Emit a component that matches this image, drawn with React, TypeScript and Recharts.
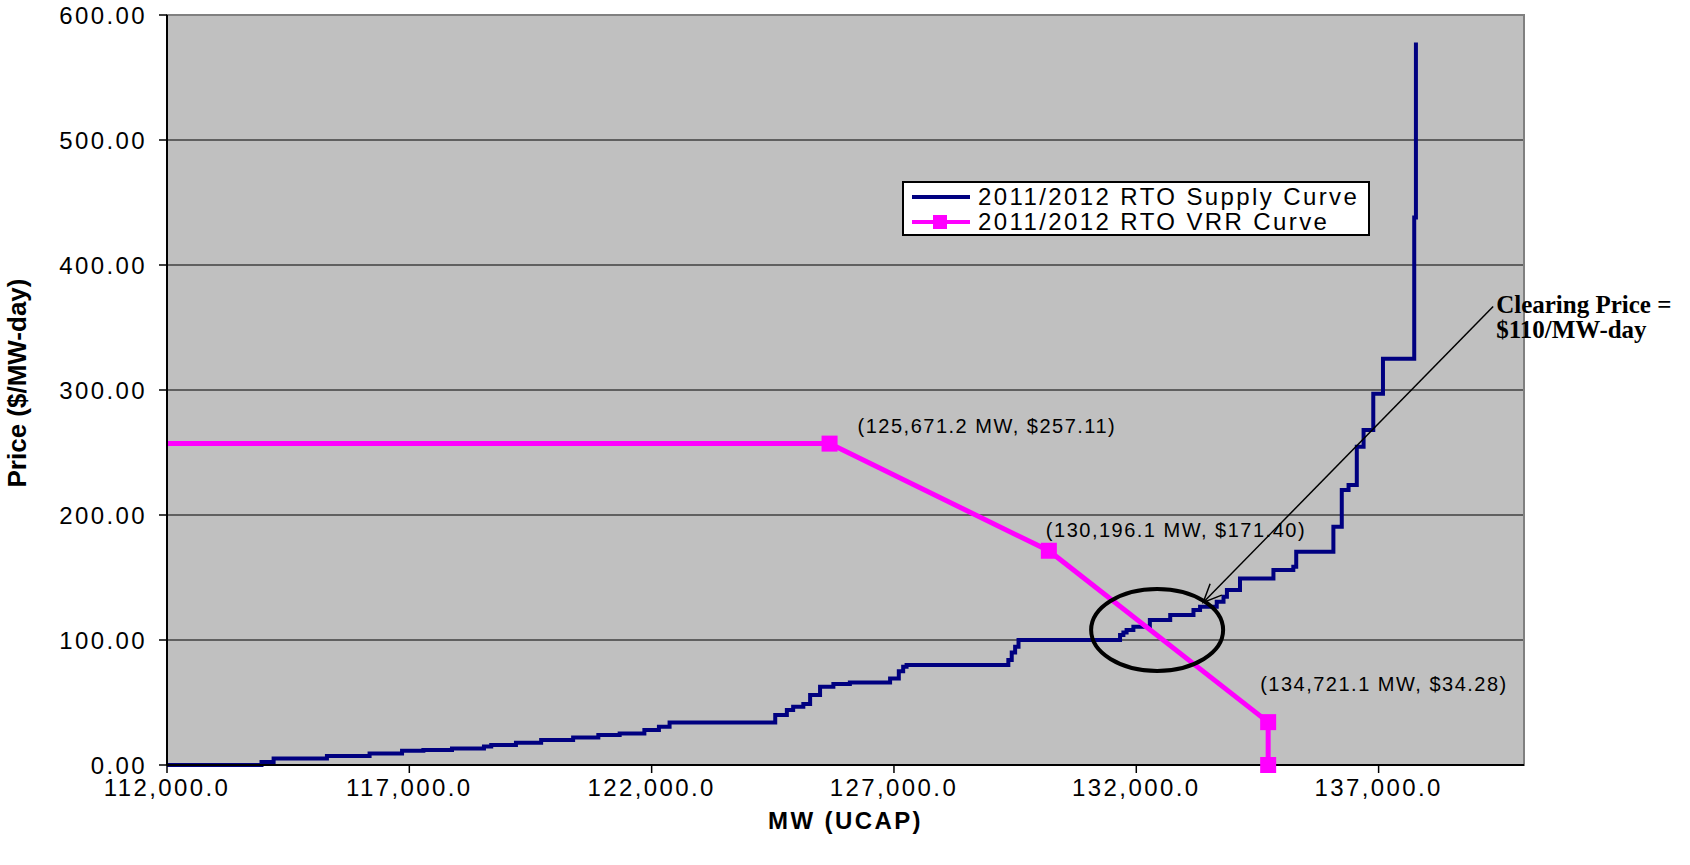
import { LineChart, Line, XAxis, YAxis, CartesianGrid, Legend, ReferenceArea, ReferenceDot } from 'recharts';

// supply curve: each point starts a new price step (stepAfter)
const supplyMW = [
  112000, 113790, 113950, 114200, 115300, 116180, 116850, 117290, 117880, 118540, 118690, 119200, 119720, 120380, 120900, 121340, 121850, 122150, 122370,
  124550, 124790, 124920, 125130, 125270, 125475, 125750, 126090, 126920, 127100, 127190, 127260,
  129360, 129430, 129500, 129570,
  131665, 131734, 131800, 131940, 132280, 132700, 133180, 133316, 133660, 133800, 133870, 134140, 134830, 135240, 135300, 136067, 136240, 136380, 136550, 136690, 136890, 137090, 137735, 137770,
];
const supplyPrice = [
  0, 0, 2.5, 5.3, 7.2, 9.3, 11.5, 12, 13.3, 14.8, 16, 17.9, 20, 22.1, 24, 25.3, 28, 30.7, 34.1,
  40, 44, 46.7, 48.8, 56, 62.7, 64.8, 66.1, 69.3, 75, 78.7, 80,
  84, 90, 94.7, 100,
  104, 106, 108, 110.7, 116, 120, 124, 126.7, 130.7, 134.7, 140, 149.3, 156, 158.7, 170.7, 190.7, 220, 224, 254.7, 268, 297, 325, 438, 578,
];

// VRR (demand) curve
const vrrMW = [112000, 125671.2, 130196.1, 134721.1, 134721.1];
const vrrPrice = [257.11, 257.11, 171.4, 34.28, 0];

const xTicks = [112000, 117000, 122000, 127000, 132000, 137000];
const yTicks = [0, 100, 200, 300, 400, 500, 600];
const seriesNames = ['2011/2012 RTO Supply Curve', '2011/2012 RTO VRR Curve'];
const clearingText = ['Clearing Price =', '$110/MW-day'];

// annotation anchors (data space)
const crossCenter = { mw: 132430, price: 108 };
const arrowTip = { mw: 133380, price: 130 };

const supplyData = supplyMW.map((mw, i) => ({ mw, price: supplyPrice[i] }));
const vrrData = vrrMW.map((mw, i) => ({ mw, price: vrrPrice[i] }));

const FONT = '"Liberation Sans", Arial, sans-serif';
const NAVY = '#000080';
const MAGENTA = '#ff00ff';

const labelOffsets: Record<number, { dx: number; dy: number }> = {
  1: { dx: 28, dy: -18 },
  2: { dx: -3, dy: -21 },
  3: { dx: -8, dy: -38 },
};

const fmtMW = (v: number) =>
  v.toLocaleString('en-US', { minimumFractionDigits: 1, maximumFractionDigits: 1 });

function VrrDot(props: any) {
  const { cx, cy, index } = props;
  if (index === 0) return <g key={`vd${index}`} />;
  return <rect key={`vd${index}`} x={cx - 8} y={cy - 8} width={16} height={16} fill={MAGENTA} />;
}

function VrrLabel(props: any) {
  const { x, y, index } = props;
  const off = labelOffsets[index];
  if (!off) return <g key={`vl${index}`} />;
  const text = `(${fmtMW(vrrMW[index])} MW, $${vrrPrice[index].toFixed(2)})`;
  return (
    <text
      key={`vl${index}`}
      x={x + off.dx}
      y={y + off.dy}
      dominantBaseline="central"
      fontFamily={FONT}
      fontSize={20}
      fill="#000"
      style={{ letterSpacing: '1.5px' }}
    >
      {text}
    </text>
  );
}

function YTitle(props: any) {
  const { viewBox } = props;
  const x = viewBox.x + 17;
  const y = viewBox.y + viewBox.height / 2 - 7;
  return (
    <text
      x={x}
      y={y}
      transform={`rotate(-90 ${x} ${y})`}
      textAnchor="middle"
      dominantBaseline="central"
      fontFamily={FONT}
      fontSize={26}
      fontWeight={700}
      fill="#000"
    >
      Price ($/MW-day)
    </text>
  );
}

function CrossEllipse(props: any) {
  const { cx, cy } = props;
  return <ellipse cx={cx} cy={cy} rx={66} ry={41} fill="none" stroke="#000" strokeWidth={4} />;
}

function ClearingArrow(props: any) {
  const { cx, cy } = props;
  const dx = 290;
  const dy = -296;
  const len = Math.hypot(dx, dy);
  const ux = dx / len;
  const uy = dy / len;
  const head = 20;
  const a = 0.42;
  const p1 = [cx + head * (ux * Math.cos(a) - uy * Math.sin(a)), cy + head * (ux * Math.sin(a) + uy * Math.cos(a))];
  const p2 = [cx + head * (ux * Math.cos(-a) - uy * Math.sin(-a)), cy + head * (ux * Math.sin(-a) + uy * Math.cos(-a))];
  const tx = cx + dx + 3;
  const ty = cy + dy + 6;
  return (
    <g>
      <line x1={cx} y1={cy} x2={cx + dx} y2={cy + dy} stroke="#000" strokeWidth={1.5} />
      <polyline points={`${p1[0]},${p1[1]} ${cx},${cy} ${p2[0]},${p2[1]}`} fill="none" stroke="#000" strokeWidth={1.5} />
      <text fontFamily='"Liberation Serif", "Times New Roman", serif' fontWeight={700} fontSize={25} fill="#000">
        <tspan x={tx} y={ty}>{clearingText[0]}</tspan>
        <tspan x={tx} y={ty + 25}>{clearingText[1]}</tspan>
      </text>
    </g>
  );
}

function LegendBox() {
  return (
    <div
      style={{
        width: 468,
        height: 55,
        boxSizing: 'border-box',
        border: '2px solid #000',
        background: '#fff',
        fontFamily: FONT,
        fontSize: 24,
        letterSpacing: '2.4px',
        color: '#000',
        paddingTop: 1,
      }}
    >
      {seriesNames.map((name, i) => (
        <div key={name} style={{ display: 'flex', alignItems: 'center', height: 25, lineHeight: '25px' }}>
          <svg width={70} height={20} style={{ marginLeft: 4 }}>
            <line x1={4} y1={10} x2={62} y2={10} stroke={i === 0 ? NAVY : MAGENTA} strokeWidth={4} />
            {i === 1 && <rect x={25} y={3} width={14} height={14} fill={MAGENTA} />}
          </svg>
          <span>{name}</span>
        </div>
      ))}
    </div>
  );
}

export default function App() {
  const tickStyle = { fontSize: 24, fill: '#000', fontFamily: FONT, style: { letterSpacing: '2.4px' } };
  return (
    <div style={{ position: 'absolute', left: 0, top: 0, width: 1690, height: 865, background: '#fff' }}>
      <LineChart width={1690} height={865} margin={{ top: 15, right: 166, bottom: 0, left: 0 }}>
        <CartesianGrid vertical={false} stroke="#000" strokeWidth={1.2} fill="#c0c0c0" />
        <ReferenceArea x1={112000} x2={140000} y1={0} y2={600} fill="none" stroke="#808080" strokeWidth={2} ifOverflow="visible" />
        <XAxis
          type="number"
          dataKey="mw"
          domain={[112000, 140000]}
          ticks={xTicks}
          tickFormatter={fmtMW}
          height={100}
          tick={tickStyle}
          tickSize={8}
          tickMargin={6}
          axisLine={{ stroke: '#000', strokeWidth: 2 }}
          tickLine={{ stroke: '#000', strokeWidth: 1.5 }}
          label={{
            value: 'MW (UCAP)',
            position: 'insideBottom',
            offset: 36,
            style: { fontSize: 24, fontWeight: 700, fill: '#000', fontFamily: FONT, letterSpacing: '2.4px' },
          }}
        />
        <YAxis
          type="number"
          domain={[0, 600]}
          ticks={yTicks}
          tickFormatter={(v: number) => v.toFixed(2)}
          width={167}
          tick={tickStyle}
          tickSize={8}
          tickMargin={12}
          axisLine={{ stroke: '#000', strokeWidth: 2 }}
          tickLine={{ stroke: '#000', strokeWidth: 1.5 }}
          label={YTitle}
        />
        <Legend
          layout="horizontal"
          verticalAlign="middle"
          align="center"
          wrapperStyle={{ position: 'absolute', left: 902, top: 181, width: 468 }}
          content={() => <LegendBox />}
        />
        <Line
          data={supplyData}
          dataKey="price"
          name={seriesNames[0]}
          type="stepAfter"
          stroke={NAVY}
          strokeWidth={4}
          dot={false}
          activeDot={false}
          isAnimationActive={false}
        />
        <Line
          data={vrrData}
          dataKey="price"
          name={seriesNames[1]}
          type="linear"
          stroke={MAGENTA}
          strokeWidth={5}
          dot={VrrDot}
          activeDot={false}
          label={VrrLabel}
          isAnimationActive={false}
        />
        <ReferenceDot x={crossCenter.mw} y={crossCenter.price} ifOverflow="visible" shape={CrossEllipse} />
        <ReferenceDot x={arrowTip.mw} y={arrowTip.price} ifOverflow="visible" shape={ClearingArrow} />
      </LineChart>
    </div>
  );
}
